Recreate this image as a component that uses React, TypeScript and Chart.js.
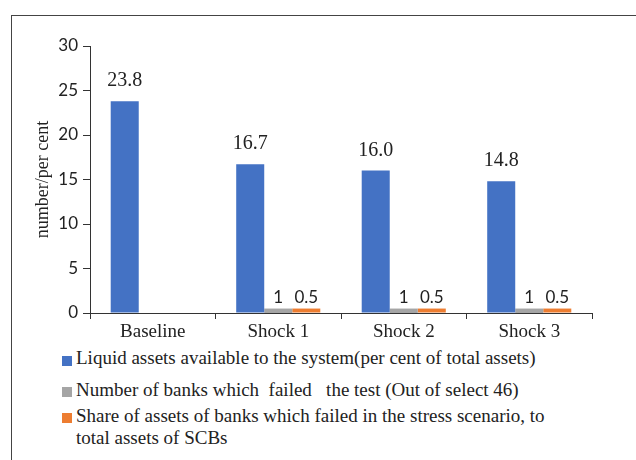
import React, { useEffect, useRef } from "react";
import { Chart, registerables } from "chart.js";

Chart.register(...registerables);

const categories = ["Baseline", "Shock 1", "Shock 2", "Shock 3"];
const liquidAssets = [23.8, 16.7, 16.0, 14.8];
const banksFailed = [null, 1, 1, 1];
const shareFailed = [null, 0.5, 0.5, 0.5];
const yTicks = [0, 5, 10, 15, 20, 25, 30];
const seriesNames = [
  "Liquid assets available to the system(per cent of total assets)",
  "Number of banks which  failed   the test (Out of select 46)",
  "Share of assets of banks which failed in the stress scenario, to total assets of SCBs",
];
const colors = ["#4472C4", "#A5A5A5", "#ED7D31"];

const SERIF = "'Liberation Serif', 'DejaVu Serif', serif";
const SANS = "Lato, 'Open Sans', sans-serif";

const labelPlugin = {
  id: "barLabels",
  afterDatasetsDraw(chart: any) {
    const ctx = chart.ctx;
    ctx.save();
    ctx.textAlign = "center";
    ctx.textBaseline = "alphabetic";
    ctx.fillStyle = "#222";
    chart.data.datasets.forEach((ds: any, di: number) => {
      const meta = chart.getDatasetMeta(di);
      meta.data.forEach((el: any, i: number) => {
        const v = ds.data[i];
        if (v === null || v === undefined) return;
        if (di === 0) {
          ctx.font = `20px ${SERIF}`;
          ctx.fillText(v.toFixed(1), el.x, el.y - 15);
        } else {
          ctx.font = `17px ${SANS}`;
          ctx.fillText(String(v), el.x, el.y - 6);
        }
      });
    });
    ctx.restore();
  },
};

export default function App() {
  const ref = useRef<HTMLCanvasElement | null>(null);
  useEffect(() => {
    document.body.style.margin = "0";
    if (!ref.current) return;
    const chart = new Chart(ref.current, {
      type: "bar",
      data: {
        labels: categories,
        datasets: [
          { label: seriesNames[0], data: liquidAssets, backgroundColor: colors[0], yAxisID: "y" },
          { label: seriesNames[1], data: banksFailed as any, backgroundColor: colors[1], yAxisID: "y2" },
          { label: seriesNames[2], data: shareFailed as any, backgroundColor: colors[2], yAxisID: "y" },
        ],
      },
      options: {
        responsive: false,
        animation: false,
        devicePixelRatio: 1,
        layout: { padding: { left: 0, right: 44, top: 46, bottom: 0 } },
        plugins: { legend: { display: false }, tooltip: { enabled: false } },
        datasets: { bar: { categoryPercentage: 0.67, barPercentage: 1 } },
        scales: {
          x: {
            grid: { offset: true, drawOnChartArea: false, drawTicks: true, tickLength: 6, color: "#333" },
            border: { display: true, color: "#333", width: 1 },
            ticks: { font: { family: SERIF, size: 19 }, color: "#222", padding: 2 },
            afterFit: (s: any) => { s.height = 32; },
          },
          y: {
            min: 0,
            max: 30,
            afterBuildTicks: (s: any) => { s.ticks = yTicks.map((v) => ({ value: v })); },
            ticks: { font: { family: SANS, size: 17 }, color: "#222", padding: 5 },
            grid: { drawOnChartArea: false, drawTicks: true, tickLength: 7, color: "#333" },
            border: { display: true, color: "#333", width: 1 },
            title: { display: true, text: "number/per cent", font: { family: SERIF, size: 18 }, color: "#222", padding: { top: 32, bottom: 0 } },
            afterFit: (s: any) => { s.width = 90; },
          },
          y2: { display: false, min: 0, max: 60 },
        },
      },
      plugins: [labelPlugin],
    });
    return () => chart.destroy();
  }, []);

  const legendRows = [
    { top: 347, lines: [seriesNames[0]], sq: 356 },
    { top: 379, lines: [seriesNames[1]], sq: 387 },
    { top: 405, lines: ["Share of assets of banks which failed in the stress scenario, to", "total assets of SCBs"], sq: 413 },
  ];

  return (
    <div style={{ position: "relative", width: 636, height: 460, overflow: "hidden", background: "#fff" }}>
      <div style={{ position: "absolute", left: 11, top: 15, width: 640, height: 460, borderLeft: "1.5px solid #444", borderTop: "1.5px solid #444" }} />
      <canvas ref={ref} width={636} height={345} style={{ position: "absolute", left: 0, top: 0 }} />
      {legendRows.map((r, i) => (
        <div key={i}>
          <div style={{ position: "absolute", left: 62, top: r.sq, width: 10, height: 10, background: colors[i] }} />
          <div style={{ position: "absolute", left: 76, top: r.top, fontFamily: SERIF, fontSize: 19, lineHeight: "22px", color: "#222", whiteSpace: "pre" }}>
            {r.lines.join("\n")}
          </div>
        </div>
      ))}
    </div>
  );
}
